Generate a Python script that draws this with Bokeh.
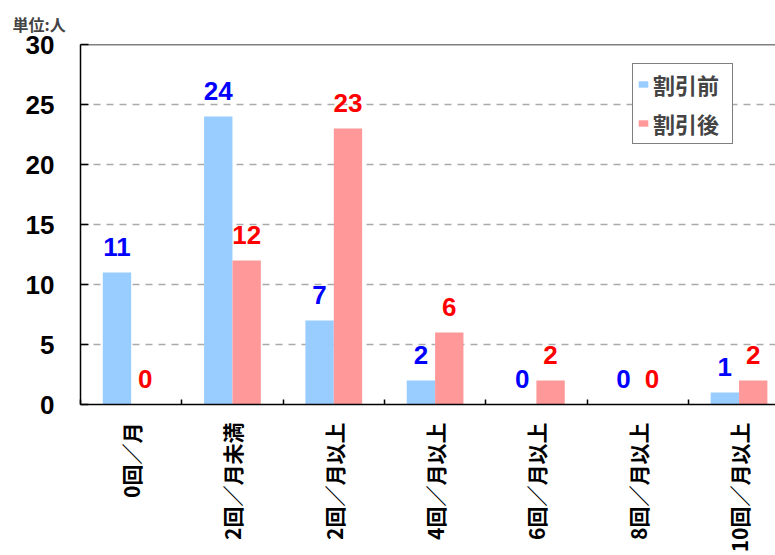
import numpy as np
from bokeh.plotting import figure
from bokeh.models import Range1d, FixedTicker, ColumnDataSource, Span, Legend, LegendItem
from bokeh.transform import dodge
from bokeh.core.properties import value
from bokeh.embed import file_html
from bokeh.resources import INLINE

# ---- data ----
categories = ["0回／月", "2回／月未満", "2回／月以上", "4回／月以上", "6回／月以上", "8回／月以上", "10回／月以上"]
before = [11, 24, 7, 2, 0, 0, 1]
after = [0, 12, 23, 6, 2, 0, 2]
series_names = ["割引前", "割引後"]
y_ticks = [0, 5, 10, 15, 20, 25, 30]
unit_label = "単位:人"

y_max = y_ticks[-1]
n = len(categories)
centers = list(np.arange(n) + 0.5)
boundaries = list(np.arange(n + 1))

src = ColumnDataSource(dict(
    x=centers, before=before, after=after,
    bl=[str(v) for v in before], al=[str(v) for v in after],
))

CJK = "Noto Sans CJK JP"
LAT = "Liberation Sans"

p = figure(width=775, height=555, output_backend="svg", toolbar_location=None,
           x_range=Range1d(0, 6.86), y_range=Range1d(0, y_max),
           min_border_left=80, min_border_right=0, min_border_top=44, min_border_bottom=150,
           background_fill_color="white", border_fill_color="white")
p.outline_line_color = None

# unit note as the (left-shifted) title
p.title.text = unit_label
p.title.text_font = CJK
p.title.text_font_size = "16px"
p.title.text_font_style = "bold"
p.title.align = "left"
p.title.offset = -68
p.title.standoff = 18

bw = 0.28
r1 = p.vbar(x=dodge("x", -bw / 2, range=p.x_range), top="before", width=bw, source=src,
            fill_color="#99ccff", line_color=None)
r2 = p.vbar(x=dodge("x", bw / 2, range=p.x_range), top="after", width=bw, source=src,
            fill_color="#ff9999", line_color=None)

p.text(x=dodge("x", -bw / 2, range=p.x_range), y="before", text="bl", source=src,
       text_align="center", text_baseline="alphabetic", y_offset=-26,
       text_color="#0000ff", text_font=value(LAT), text_font_size="26px", text_font_style="bold")
p.text(x=dodge("x", bw / 2, range=p.x_range), y="after", text="al", source=src,
       text_align="center", text_baseline="alphabetic", y_offset=-26,
       text_color="#ff0000", text_font=value(LAT), text_font_size="26px", text_font_style="bold")

# grid
p.xgrid.grid_line_color = None
p.ygrid.ticker = FixedTicker(ticks=y_ticks[1:-1])
p.ygrid.grid_line_color = "#aaaaaa"
p.ygrid.grid_line_width = 1.5
p.ygrid.grid_line_dash = "7 6"
p.add_layout(Span(location=y_max, dimension="width", line_color="black", line_width=1.5))

# y axis
ya = p.yaxis[0]
ya.ticker = FixedTicker(ticks=y_ticks)
ya.axis_line_color = "black"
ya.axis_line_width = 1.5
ya.major_tick_in = 8
ya.major_tick_out = 0
ya.major_tick_line_width = 1.5
ya.minor_tick_line_color = None
ya.major_label_text_font = LAT
ya.major_label_text_font_size = "26px"
ya.major_label_text_font_style = "bold"
ya.major_label_text_color = "black"
ya.major_label_standoff = 26

# x axis
xa = p.xaxis[0]
xa.ticker = FixedTicker(ticks=centers, minor_ticks=boundaries)
xa.major_label_overrides = {c: lab for c, lab in zip(centers, categories)}
xa.major_label_orientation = np.pi / 2
xa.axis_line_color = "black"
xa.axis_line_width = 1.5
xa.major_tick_line_color = None
xa.minor_tick_in = 5
xa.minor_tick_out = 0
xa.minor_tick_line_width = 1.5
xa.minor_tick_line_color = "black"
xa.major_label_text_font = CJK
xa.major_label_text_font_size = "21px"
xa.major_label_text_font_style = "bold"
xa.major_label_text_color = "black"
xa.major_label_standoff = 12

legend = Legend(items=[LegendItem(label=series_names[0], renderers=[r1]),
                       LegendItem(label=series_names[1], renderers=[r2])],
                location=(552, 260))
legend.border_line_color = "black"
legend.border_line_width = 1.5
legend.background_fill_alpha = 1
legend.padding = 4
legend.spacing = 7
legend.label_height = 25
legend.label_width = 75
legend.glyph_width = 12
legend.glyph_height = 8
legend.label_standoff = 4
legend.label_text_font = CJK
legend.label_text_font_size = "22px"
legend.label_text_font_style = "bold"
legend.label_text_baseline = "top"
legend.margin = 0
p.add_layout(legend)

open("out.html", "w").write(file_html(p, INLINE))
